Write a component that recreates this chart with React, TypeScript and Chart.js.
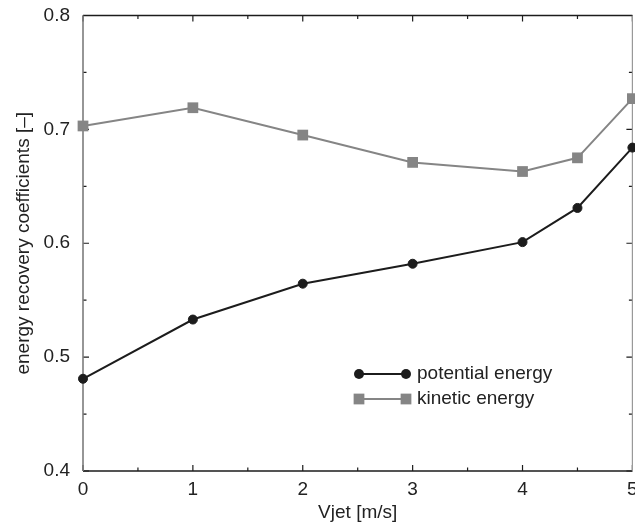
import React, { useEffect, useRef } from "react";
import { Chart, registerables } from "chart.js";

Chart.register(...registerables);

const vjet = [0, 1, 2, 3, 4, 4.5, 5];
const potentialEnergy = [0.481, 0.533, 0.5645, 0.582, 0.601, 0.631, 0.684];
const kineticEnergy = [0.703, 0.719, 0.695, 0.671, 0.663, 0.675, 0.727];
const seriesLabels = ["potential energy", "kinetic energy"];
const xTitle = "Vjet [m/s]";
const yTitle = "energy recovery coefficients [\u2013]";
const xMajorTicks = [0, 1, 2, 3, 4, 5];
const xMinorTicks = [0.5, 1.5, 2.5, 3.5, 4.5];
const yMajorTicks = [0.4, 0.5, 0.6, 0.7, 0.8];
const yMinorTicks = [0.45, 0.55, 0.65, 0.75];

const FONT = "'Liberation Sans', Arial, Helvetica, sans-serif";
const BLACK = "#1c1c1c";
const GRAY = "#858585";

const framePlugin = {
  id: "frame",
  beforeDatasetsDraw(chart: any) {
    const { ctx, chartArea: a, scales } = chart;
    const x = scales.x;
    const y = scales.y;
    ctx.save();
    ctx.strokeStyle = BLACK;
    ctx.lineWidth = 1.2;
    const tick = (v: number, len: number, horiz: boolean) => {
      ctx.beginPath();
      if (horiz) {
        const px = x.getPixelForValue(v);
        ctx.moveTo(px, a.bottom);
        ctx.lineTo(px, a.bottom - len);
        ctx.moveTo(px, a.top);
        ctx.lineTo(px, a.top + len);
      } else {
        const py = y.getPixelForValue(v);
        ctx.moveTo(a.left, py);
        ctx.lineTo(a.left + len, py);
        ctx.moveTo(a.right, py);
        ctx.lineTo(a.right - len, py);
      }
      ctx.stroke();
    };
    xMajorTicks.forEach((v) => tick(v, 6, true));
    xMinorTicks.forEach((v) => tick(v, 3.5, true));
    yMajorTicks.forEach((v) => tick(v, 6, false));
    yMinorTicks.forEach((v) => tick(v, 3.5, false));
    ctx.lineWidth = 1.6;
    ctx.strokeStyle = BLACK;
    ctx.beginPath();
    ctx.moveTo(a.left, a.bottom);
    ctx.lineTo(a.right, a.bottom);
    ctx.moveTo(a.left, a.top);
    ctx.lineTo(a.right, a.top);
    ctx.stroke();
    ctx.strokeStyle = "#7c7c7c";
    ctx.beginPath();
    ctx.moveTo(a.left, a.top);
    ctx.lineTo(a.left, a.bottom);
    ctx.stroke();
    ctx.strokeStyle = "#999999";
    ctx.lineWidth = 1.2;
    ctx.beginPath();
    ctx.moveTo(a.right, a.top);
    ctx.lineTo(a.right, a.bottom);
    ctx.stroke();
    ctx.restore();
  },
};

const legendPlugin = {
  id: "insideLegend",
  afterDraw(chart: any) {
    const { ctx } = chart;
    const x0 = 359;
    const x1 = 406;
    const tx = 417;
    const rows = [374, 399];
    ctx.save();
    chart.data.datasets.forEach((ds: any, i: number) => {
      const yy = rows[i];
      ctx.strokeStyle = ds.borderColor;
      ctx.lineWidth = ds.borderWidth;
      ctx.beginPath();
      ctx.moveTo(x0, yy);
      ctx.lineTo(x1, yy);
      ctx.stroke();
      ctx.fillStyle = ds.pointBackgroundColor;
      [x0, x1].forEach((px) => {
        if (ds.pointStyle === "rect") {
          const s = ds.pointRadius * Math.SQRT1_2;
          ctx.fillRect(px - s, yy - s, 2 * s, 2 * s);
        } else {
          ctx.beginPath();
          ctx.arc(px, yy, ds.pointRadius + 0.5, 0, Math.PI * 2);
          ctx.fill();
        }
      });
      ctx.fillStyle = "#222";
      ctx.font = `19px ${FONT}`;
      ctx.textAlign = "left";
      ctx.textBaseline = "middle";
      ctx.fillText(ds.label, tx, yy);
    });
    ctx.restore();
  },
};

export default function App() {
  const ref = useRef<HTMLCanvasElement | null>(null);
  useEffect(() => {
    if (!ref.current) return;
    const chart = new Chart(ref.current, {
      type: "line",
      data: {
        datasets: [
          {
            label: seriesLabels[0],
            data: vjet.map((v, i) => ({ x: v, y: potentialEnergy[i] })),
            borderColor: BLACK,
            backgroundColor: BLACK,
            pointBackgroundColor: BLACK,
            pointBorderColor: BLACK,
            borderWidth: 2,
            pointRadius: 4.5,
            pointBorderWidth: 1,
            pointStyle: "circle",
            clip: false,
          } as any,
          {
            label: seriesLabels[1],
            data: vjet.map((v, i) => ({ x: v, y: kineticEnergy[i] })),
            borderColor: GRAY,
            backgroundColor: GRAY,
            pointBackgroundColor: GRAY,
            pointBorderColor: GRAY,
            borderWidth: 2,
            pointRadius: 7.6,
            pointBorderWidth: 0,
            pointStyle: "rect",
            clip: false,
          } as any,
        ],
      },
      options: {
        animation: false,
        responsive: false,
        maintainAspectRatio: false,
        layout: { padding: { top: 15.5, right: 6, left: 0, bottom: 0 } },
        plugins: {
          legend: { display: false },
          tooltip: { enabled: false },
        },
        scales: {
          x: {
            type: "linear",
            min: 0,
            max: 5,
            grid: { display: false, drawTicks: false },
            border: { display: false },
            ticks: {
              stepSize: 1,
              padding: 7,
              color: "#222",
              font: { family: FONT, size: 19 },
              maxRotation: 0,
            },
            title: {
              display: true,
              text: xTitle,
              color: "#222",
              font: { family: FONT, size: 19 },
              padding: { top: 0, bottom: 3 },
            },
            afterFit: (s: any) => {
              s.height = 56;
              s.paddingLeft = 0;
              s.paddingRight = 0;
            },
          },
          y: {
            type: "linear",
            min: 0.4,
            max: 0.8,
            grid: { display: false, drawTicks: false },
            border: { display: false },
            ticks: {
              stepSize: 0.1,
              padding: 13,
              color: "#222",
              font: { family: FONT, size: 19 },
              callback: (v: any) => Number(v).toFixed(1),
            },
            title: {
              display: true,
              text: yTitle,
              color: "#222",
              font: { family: FONT, size: 19 },
              padding: { top: 12, bottom: 0 },
            },
            afterFit: (s: any) => {
              s.width = 83;
              s.paddingTop = 0;
              s.paddingBottom = 0;
            },
          },
        },
      } as any,
      plugins: [framePlugin, legendPlugin],
    });
    return () => chart.destroy();
  }, []);
  return (
    <div style={{ position: "fixed", left: 0, top: 0, width: 640, height: 527, background: "#fff" }}>
      <canvas ref={ref} width={640} height={527} style={{ width: 640, height: 527, display: "block" }} />
    </div>
  );
}
